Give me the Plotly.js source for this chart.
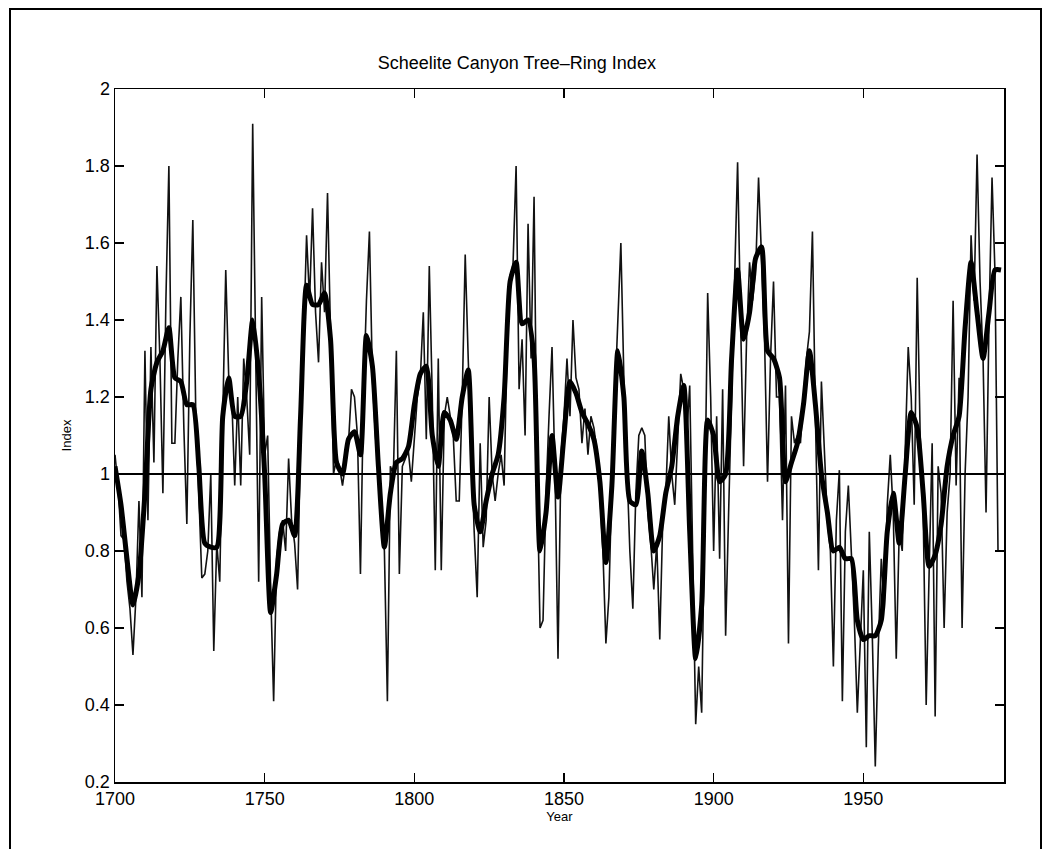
<!DOCTYPE html>
<html>
<head>
<meta charset="utf-8">
<script src="https://cdn.plot.ly/plotly-3.0.1.min.js"></script>
<style>
  html, body { margin: 0; padding: 0; background: #ffffff; }
  #chart { position: absolute; left: 0; top: 0; width: 1049px; height: 849px; }
  #frame { position: absolute; left: 9px; top: 8px; width: 1029px; height: 845px;
           border-left: 2px solid #000; border-top: 2px solid #000; border-right: 2px solid #000;
           pointer-events: none; }
</style>
</head>
<body>
<div id="chart"></div>
<div id="frame"></div>
<script>
// ---- data ----
const firstYear = 1700;
// annual tree-ring index (thin line), 1700..1995
const annualIndex = [
  1.05, 0.97, 0.84, 0.83, 0.72, 0.65, 0.53, 0.68, 0.93, 0.68, // 1700
  1.32, 0.88, 1.33, 1.03, 1.54, 1.30, 0.95, 1.45, 1.80, 1.08, // 1710
  1.08, 1.30, 1.46, 1.12, 0.87, 1.35, 1.66, 1.15, 0.95, 0.73, // 1720
  0.74, 0.80, 1.00, 0.54, 0.82, 0.72, 1.15, 1.53, 1.25, 1.20, // 1730
  0.97, 1.20, 0.97, 1.30, 1.20, 1.05, 1.91, 1.25, 0.72, 1.46, // 1740
  1.05, 1.10, 0.70, 0.41, 0.78, 0.85, 0.88, 0.80, 1.04, 0.88, // 1750
  0.82, 0.70, 1.10, 1.35, 1.62, 1.45, 1.69, 1.42, 1.29, 1.55, // 1760
  1.42, 1.73, 1.40, 1.00, 1.04, 1.02, 0.97, 1.02, 1.08, 1.22, // 1770
  1.20, 1.10, 0.74, 1.20, 1.45, 1.63, 1.25, 1.10, 1.00, 0.88, // 1780
  0.80, 0.41, 1.02, 1.00, 1.32, 0.74, 1.02, 1.04, 1.06, 0.98, // 1790
  1.10, 1.20, 1.25, 1.42, 1.09, 1.54, 1.20, 0.75, 1.30, 0.75, // 1800
  1.15, 1.20, 1.15, 1.10, 0.93, 0.93, 1.20, 1.57, 1.30, 1.05, // 1810
  0.85, 0.68, 1.08, 0.81, 0.88, 1.20, 1.00, 0.93, 1.00, 1.05, // 1820
  0.97, 1.35, 1.50, 1.55, 1.80, 1.22, 1.35, 1.10, 1.65, 1.30, // 1830
  1.72, 1.00, 0.60, 0.62, 0.95, 1.15, 1.33, 1.00, 0.52, 1.05, // 1840
  1.15, 1.30, 1.15, 1.40, 1.25, 1.22, 1.08, 1.17, 1.05, 1.15, // 1850
  1.12, 1.06, 0.95, 0.80, 0.56, 0.68, 0.98, 1.20, 1.40, 1.60, // 1860
  1.25, 1.00, 0.80, 0.65, 0.95, 1.10, 1.12, 1.10, 0.90, 0.82, // 1870
  0.70, 0.82, 0.57, 0.88, 0.95, 1.15, 1.00, 0.92, 1.10, 1.26, // 1880
  1.22, 1.10, 1.23, 0.75, 0.35, 0.50, 0.38, 0.90, 1.47, 1.20, // 1890
  0.80, 1.15, 0.78, 1.22, 0.58, 0.90, 1.20, 1.55, 1.81, 1.40, // 1900
  1.02, 1.35, 1.55, 1.45, 1.52, 1.77, 1.55, 1.35, 0.98, 1.30, // 1910
  1.50, 1.20, 1.20, 0.88, 1.23, 0.56, 1.15, 1.08, 1.10, 1.08, // 1920
  1.20, 1.30, 1.37, 1.63, 1.15, 0.75, 1.24, 1.05, 0.88, 0.80, // 1930
  0.50, 0.88, 1.01, 0.41, 0.85, 0.97, 0.78, 0.62, 0.38, 0.58, // 1940
  0.75, 0.29, 0.85, 0.58, 0.24, 0.55, 0.78, 0.65, 0.92, 1.05, // 1950
  0.90, 0.52, 0.85, 0.80, 1.05, 1.33, 1.20, 0.92, 1.51, 1.10, // 1960
  0.90, 0.40, 0.75, 1.08, 0.37, 1.02, 0.95, 0.60, 0.90, 1.00, // 1970
  1.45, 0.97, 1.25, 0.60, 1.00, 1.20, 1.62, 1.45, 1.83, 1.50, // 1980
  1.30, 0.90, 1.40, 1.77, 1.52, 0.80                          // 1990
];
// smoothed index (thick line), every second year 1700..1996
const smoothStep = 2;
const smoothIndex = [
  1.02, 0.92, 0.78, 0.66, 0.74, 0.95, 1.22, 1.29, 1.32, 1.38, 1.25, 1.24, 1.18, 1.18, 1.02, 0.82,
  0.81, 0.81, 1.15, 1.25, 1.15, 1.15, 1.24, 1.40, 1.26, 1.00, 0.64, 0.74, 0.87, 0.88, 0.84, 1.15, 1.49, 1.44, 1.44, 1.47,
  1.35, 1.03, 1.00, 1.09, 1.11, 1.05, 1.36, 1.28, 1.02, 0.81, 0.95, 1.03, 1.04, 1.07, 1.18, 1.26, 1.28, 1.10, 1.02,
  1.16, 1.14, 1.09, 1.20, 1.27, 0.92, 0.85, 0.93, 1.00, 1.05, 1.20, 1.50, 1.55, 1.39, 1.40, 1.30, 0.80, 0.90, 1.10,
  0.94, 1.10, 1.24, 1.21, 1.16, 1.13, 1.09, 0.98, 0.77, 0.97, 1.32, 1.20, 0.93, 0.92, 1.06, 0.95, 0.80, 0.84, 0.95,
  1.02, 1.15, 1.23, 0.85, 0.52, 0.66, 1.14, 1.10, 0.98, 1.00, 1.30, 1.53, 1.35, 1.42, 1.56, 1.59, 1.32, 1.30, 1.25,
  0.98, 1.03, 1.08, 1.18, 1.32, 1.18, 1.00, 0.90, 0.80, 0.81, 0.78, 0.78, 0.62, 0.57, 0.58, 0.58, 0.62, 0.85, 0.95,
  0.82, 1.00, 1.16, 1.12, 0.95, 0.76, 0.79, 0.87, 1.02, 1.10, 1.15, 1.38, 1.55, 1.42, 1.30, 1.42, 1.53, 1.53
];
const referenceLevel = 1;
const xRange = [1700, 1997];
const yRange = [0.2, 2];
const xTickVals = [1700, 1750, 1800, 1850, 1900, 1950];
const yTickVals = [0.2, 0.4, 0.6, 0.8, 1, 1.2, 1.4, 1.6, 1.8, 2];
const yTickText = ['0.2', '0.4', '0.6', '0.8', '1', '1.2', '1.4', '1.6', '1.8', '2'];

// ---- build traces ----
const annualYears = annualIndex.map((_, i) => firstYear + i);
const smoothYears = smoothIndex.map((_, i) => firstYear + i * smoothStep);

const FONT = 'Liberation Sans, Arial, Helvetica, sans-serif';

const traces = [
  { x: annualYears, y: annualIndex, type: 'scatter', mode: 'lines',
    line: { color: '#111', width: 1.6 }, hoverinfo: 'skip', showlegend: false },
  { x: smoothYears, y: smoothIndex, type: 'scatter', mode: 'lines',
    line: { color: '#000', width: 5, shape: 'spline', smoothing: 0.6 }, hoverinfo: 'skip', showlegend: false },
  { x: xRange, y: [referenceLevel, referenceLevel], type: 'scatter', mode: 'lines',
    line: { color: '#000', width: 2 }, hoverinfo: 'skip', showlegend: false }
];

const axisCommon = {
  showgrid: false, zeroline: false, showline: true, linecolor: '#000', linewidth: 1.5,
  mirror: 'ticks', ticks: 'inside', ticklen: 9, tickwidth: 1.5, tickcolor: '#000',
  tickfont: { family: FONT, size: 18, color: '#000' }
};

const layout = {
  width: 1049, height: 849,
  margin: { l: 115, r: 45, t: 89, b: 67, pad: 0 },
  paper_bgcolor: '#fff', plot_bgcolor: '#fff',
  font: { family: FONT, color: '#000' },
  title: { text: 'Scheelite Canyon Tree\u2013Ring Index', font: { family: FONT, size: 18, color: '#000' },
           xref: 'paper', x: 0.452, xanchor: 'center', yref: 'container', y: 1 - 63 / 849, yanchor: 'middle' },
  xaxis: Object.assign({}, axisCommon, {
    range: xRange, tickmode: 'array', tickvals: xTickVals, ticktext: xTickVals.map(String),
    title: { text: 'Year', font: { family: FONT, size: 13, color: '#000' }, standoff: 4 }
  }),
  yaxis: Object.assign({}, axisCommon, {
    range: yRange, tickmode: 'array', tickvals: yTickVals, ticktext: yTickText,
    title: { text: 'Index', font: { family: FONT, size: 13, color: '#000' }, standoff: 10 }
  }),
  showlegend: false
};

Plotly.newPlot('chart', traces, layout, { staticPlot: true, displayModeBar: false });
</script>
</body>
</html>
